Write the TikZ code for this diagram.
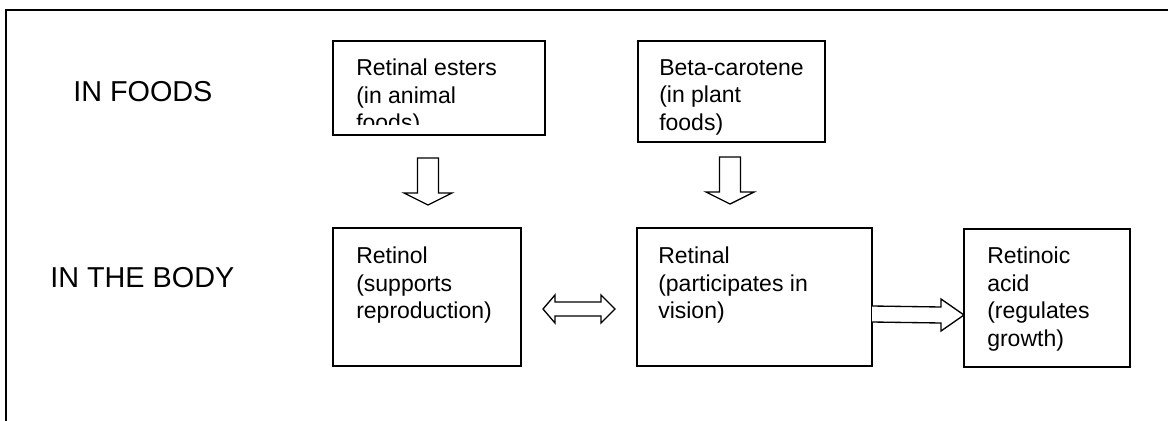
\documentclass[tikz,border=0pt]{standalone}
\usepackage{fontspec}
\setmainfont{Liberation Sans}
\usetikzlibrary{calc,positioning}
\newcommand{\boxfont}{\fontsize{17.25}{20.6}\selectfont}
\newcommand{\rowfont}{\fontsize{21.6}{25}\selectfont}

\begin{document}
\begin{tikzpicture}[x=0.75pt,y=-0.75pt,
    box/.style={draw,line width=1.2pt,anchor=north west,inner sep=0pt,outer sep=0pt},
    boxtext/.style={anchor=north west,inner sep=0pt,align=left,font=\boxfont},
    rowlabel/.style={anchor=west,inner sep=0pt,font=\rowfont},
    blockarrow/.style={draw,line width=1pt,line join=miter,fill=white}]
      \useasboundingbox (0,0) rectangle (1168,421);
      \pgfmathsetmacro{\Rsh}{10.5}
      \pgfmathsetmacro{\Rhd}{24}

      % frame
      \draw[line width=1.2pt] (6,421) -- (6,10) -- (1168,10);

      \node[rowlabel] (foods) at (73,92) {IN FOODS};
      \node[rowlabel] (body) at (50,278) {IN THE BODY};

      % boxes
      \node[box,minimum width=159pt,minimum height=70.5pt] (esters) at (333,41) {};
      \node[box,minimum width=140.25pt,minimum height=75.75pt] (carotene) at (638,41) {};
      \node[box,minimum width=141pt,minimum height=103.5pt] (retinol) at (333,228) {};
      \node[box,minimum width=176.25pt,minimum height=103.5pt] (retinal) at (637,228) {};
      \node[box,minimum width=124.5pt,minimum height=103.5pt] (acid) at (964,229) {};

      \begin{scope}
        \clip (esters.north west) rectangle ($(esters.south east)+(0,-11)$);
        \node[boxtext] (estersT) at ($(esters.north west)+(23,18)$) {Retinal esters\\(in animal\\foods)};
      \end{scope}
      \node[boxtext] (caroteneT) at ($(carotene.north west)+(21,18)$) {Beta-carotene\\(in plant\\foods)};
      \node[boxtext] (retinolT) at ($(retinol.north west)+(23,19)$) {Retinol\\(supports\\reproduction)};
      \node[boxtext] (retinalT) at ($(retinal.north west)+(21,19)$) {Retinal\\(participates in\\vision)};
      \node[boxtext] (acidT) at ($(acid.north west)+(23,18)$) {Retinoic\\acid\\(regulates\\growth)};

      % block arrows
      \coordinate (d1s) at (428,158);
      \coordinate (d1t) at (428,205);
      \coordinate (d2s) at (730,157);
      \coordinate (d2t) at (730,204);
      \foreach \s/\t in {d1s/d1t,d2s/d2t}
        \draw[blockarrow] ($(\s)+(-\Rsh,0)$) -- ($(\t)+(-\Rsh,-12)$) -- ($(\t)+(-\Rhd,-12)$) -- (\t)
          -- ($(\t)+(\Rhd,-12)$) -- ($(\t)+(\Rsh,-12)$) -- ($(\s)+(\Rsh,0)$) -- cycle;

      \coordinate (l1) at (543,309);
      \coordinate (l2) at (615,309);
      \draw[blockarrow] (l1) -- ($(l1)+(12,-14)$) -- ($(l1)+(12,-7)$) -- ($(l2)+(-14,-7)$) -- ($(l2)+(-14,-14)$)
        -- (l2) -- ($(l2)+(-14,14)$) -- ($(l2)+(-14,7)$) -- ($(l1)+(12,7)$) -- ($(l1)+(12,14)$) -- cycle;

      \coordinate (r1) at ($(retinal.east)+(0,17)$);
      \coordinate (r2) at ($(acid.west)+(0,17)$);
      \draw[blockarrow] ($(r1)+(0,-8)$) -- ($(r2)+(-23,-8)$) -- ($(r2)+(-23,-16)$) -- (r2)
        -- ($(r2)+(-23,16)$) -- ($(r2)+(-23,8)$) -- ($(r1)+(0,8)$);
    \end{tikzpicture}
\end{document}
